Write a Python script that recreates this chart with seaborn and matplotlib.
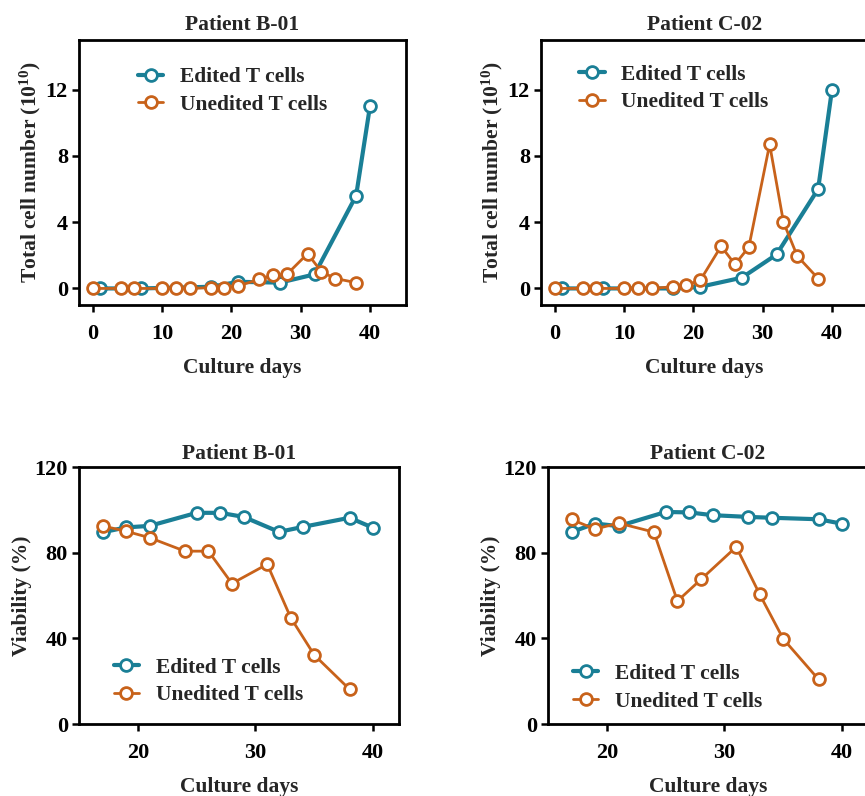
import matplotlib
matplotlib.use("Agg")
import matplotlib.pyplot as plt
import seaborn as sns
import pandas as pd

# Colours
edited_color = "#1a7f96"
unedited_color = "#c8621a"

# Total cell number (10^10), patient B-01
b01_edit_days = [1, 7, 17, 21, 27, 32, 38, 40]
b01_edit_count = [0.0, 0.0, 0.1, 0.4, 0.35, 0.85, 5.6, 11.0]
b01_unedit_days = [0, 4, 6, 10, 12, 14, 17, 19, 21, 24, 26, 28, 31, 33, 35, 38]
b01_unedit_count = [0, 0, 0, 0, 0, 0, 0.05, 0.05, 0.15, 0.55, 0.8, 0.85, 2.1, 1.0, 0.6, 0.35]

# Total cell number (10^10), patient C-02
c02_edit_days = [1, 7, 17, 21, 27, 32, 38, 40]
c02_edit_count = [0.0, 0.0, 0.0, 0.1, 0.65, 2.05, 6.0, 12.0]
c02_unedit_days = [0, 4, 6, 10, 12, 14, 17, 19, 21, 24, 26, 28, 31, 33, 35, 38]
c02_unedit_count = [0, 0, 0, 0, 0, 0, 0.1, 0.2, 0.5, 2.55, 1.45, 2.5, 8.7, 4.0, 1.95, 0.6]

# Viability (%), patient B-01
b01_via_edit_days = [17, 19, 21, 25, 27, 29, 32, 34, 38, 40]
b01_via_edit = [89.5, 91.8, 92.5, 98.6, 98.6, 96.7, 89.7, 92.0, 96.3, 91.6]
b01_via_unedit_days = [17, 19, 21, 24, 26, 28, 31, 33, 35, 38]
b01_via_unedit = [92.5, 90.0, 87.0, 80.7, 80.7, 65.6, 74.6, 49.6, 32.2, 16.2]

# Viability (%), patient C-02
c02_via_edit_days = [17, 19, 21, 25, 27, 29, 32, 34, 38, 40]
c02_via_edit = [89.6, 93.6, 92.4, 99.0, 98.8, 97.5, 96.7, 96.3, 95.6, 93.5]
c02_via_unedit_days = [17, 19, 21, 24, 26, 28, 31, 33, 35, 38]
c02_via_unedit = [95.5, 91.0, 93.8, 89.6, 57.4, 67.5, 82.7, 60.5, 39.7, 20.8]

labels = ["Edited T cells", "Unedited T cells"]

sns.set_theme(style="ticks")
plt.rcParams['font.family'] = ['Liberation Serif', 'DejaVu Serif']
plt.rcParams['font.weight'] = 'bold'
plt.rcParams['axes.labelweight'] = 'bold'
plt.rcParams['axes.titleweight'] = 'bold'
plt.rcParams['mathtext.fontset'] = 'custom'
plt.rcParams['mathtext.rm'] = 'Liberation Serif:bold'
plt.rcParams['mathtext.bf'] = 'Liberation Serif:bold'
plt.rcParams['mathtext.it'] = 'Liberation Serif:bold'

font_size = 15.5
tick_font_size = 16
legend_font_size = 15.5

fig = plt.figure(figsize=(8.65, 7.96), dpi=100)
W, H = 865, 796


def add_ax(left, top, right, bottom):
    return fig.add_axes([left / W, 1 - bottom / H, (right - left) / W, (bottom - top) / H])


ax_tl = add_ax(79, 40, 406, 305)
ax_tr = add_ax(541, 40, 868, 305)
ax_bl = add_ax(79, 467, 399, 724)
ax_br = add_ax(548, 467, 868, 724)


def draw(ax, edit_x, edit_y, unedit_x, unedit_y):
    df = pd.concat([
        pd.DataFrame({'day': edit_x, 'value': edit_y, 'group': labels[0]}),
        pd.DataFrame({'day': unedit_x, 'value': unedit_y, 'group': labels[1]}),
    ])
    for grp, col, lw in [(labels[0], edited_color, 3.0), (labels[1], unedited_color, 2.0)]:
        sub = df[df['group'] == grp]
        sns.lineplot(data=sub, x='day', y='value', ax=ax, color=col, linewidth=lw,
                     marker='o', markersize=8.5, markerfacecolor='white',
                     markeredgecolor=col, markeredgewidth=2.0, label=grp)
    for side in ['top', 'right', 'bottom', 'left']:
        ax.spines[side].set_visible(True)
        ax.spines[side].set_linewidth(2.0)
        ax.spines[side].set_color('black')
    ax.tick_params(axis='both', direction='out', length=5, width=1.8,
                   labelsize=tick_font_size, colors='black')
    ax.tick_params(axis='x', pad=9)
    ax.tick_params(axis='y', pad=3)
    for lab in ax.get_xticklabels() + ax.get_yticklabels():
        lab.set_fontweight('bold')
    ax.set_xlabel("Culture days", fontsize=font_size, labelpad=10)


draw(ax_tl, b01_edit_days, b01_edit_count, b01_unedit_days, b01_unedit_count)
draw(ax_tr, c02_edit_days, c02_edit_count, c02_unedit_days, c02_unedit_count)
draw(ax_bl, b01_via_edit_days, b01_via_edit, b01_via_unedit_days, b01_via_unedit)
draw(ax_br, c02_via_edit_days, c02_via_edit, c02_via_unedit_days, c02_via_unedit)

for ax, title in [(ax_tl, "Patient B-01"), (ax_tr, "Patient C-02")]:
    ax.set_xlim(-2, 45.2)
    ax.set_ylim(-1, 15)
    ax.set_xticks([0, 10, 20, 30, 40])
    ax.set_yticks([0, 4, 8, 12])
    ax.set_title(title, fontsize=font_size, pad=7)
    ax.set_ylabel(r"Total cell number (10$^{10}$)", fontsize=font_size, labelpad=2)

for ax, title in [(ax_bl, "Patient B-01"), (ax_br, "Patient C-02")]:
    ax.set_xlim(15, 42.2)
    ax.set_ylim(0, 120)
    ax.set_xticks([20, 30, 40])
    ax.set_yticks([0, 40, 80, 120])
    ax.set_title(title, fontsize=font_size, pad=6)
    ax.set_ylabel("Viability (%)", fontsize=font_size, labelpad=2)

leg_kw = dict(frameon=False, fontsize=legend_font_size, handlelength=1.2, handletextpad=0.75,
              labelspacing=0.35, borderaxespad=0)
ax_tl.legend(loc='upper left', bbox_to_anchor=(0.153, 0.93), **leg_kw)
ax_tr.legend(loc='upper left', bbox_to_anchor=(0.089, 0.94), **leg_kw)
ax_bl.legend(loc='lower left', bbox_to_anchor=(0.081, 0.04), **leg_kw)
ax_br.legend(loc='lower left', bbox_to_anchor=(0.05, 0.015), **leg_kw)

fig.savefig("out.png", dpi=100)
